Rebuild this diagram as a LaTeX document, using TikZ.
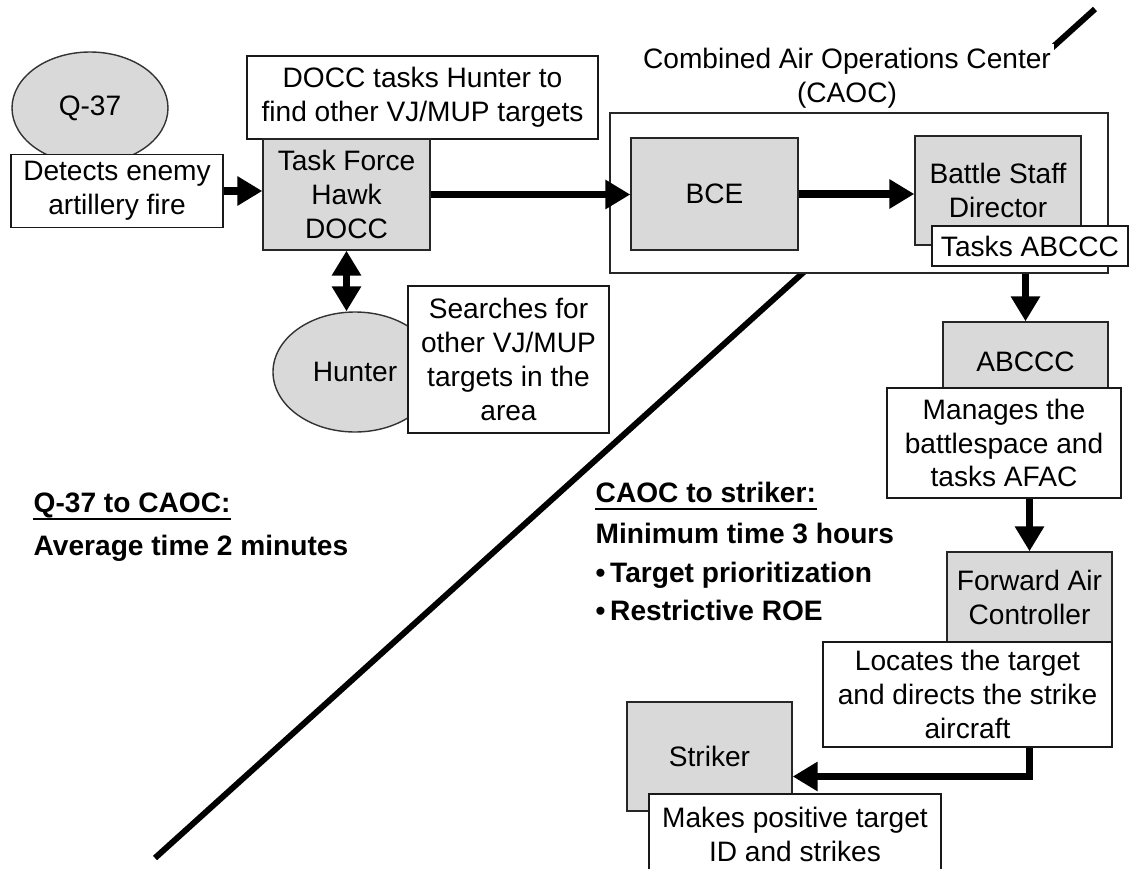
\documentclass[tikz,border=0pt]{standalone}
\usepackage{fontspec}
\setmainfont{Liberation Sans}
\usetikzlibrary{shapes.geometric,arrows.meta}

\begin{document}
\begin{tikzpicture}[
        x=0.02cm, y=-0.02cm,
        every node/.style={font=\fontsize{16}{19.3}\selectfont, align=center, line width=0.8pt},
        dims/.style 2 args={minimum width=#1*0.02cm, minimum height=#2*0.02cm},
        unit/.style={draw=black!85, fill=black!15},
        taskbox/.style={draw=black!90, fill=white},
        sensor/.style={ellipse, draw=black!80, fill=black!15},
        flow/.style={line width=4.2pt, -{Triangle[length=0.5cm, width=0.56cm]}},
        note/.style={font=\fontsize{16}{19.3}\selectfont\bfseries, anchor=base west, inner sep=0pt}
    ]
        \useasboundingbox (0,0) rectangle (1130,869);

        \coordinate (slashlow) at (155,858);
        \coordinate (slashtop) at (1095,9);
        \draw[line width=3.4pt] (slashlow) -- (slashtop);

        \node[sensor, dims={156}{112}] (q37) at (90,108) {Q-37};
        \node[taskbox, dims={212}{73}] (detects) at (117,191) {Detects enemy\\artillery fire};
        \node[taskbox, dims={351}{83}] (docctask) at (422.5,97.5) {DOCC tasks Hunter to\\find other VJ/MUP targets};
        \node[unit, dims={167}{111}] (tfh) at (346.5,194.5) {Task Force\\Hawk\\DOCC};
        \node[sensor, dims={164}{120}] (hunter) at (355,372) {Hunter};
        \node[taskbox, dims={201}{147}] (searches) at (508.5,359.5) {Searches for\\other VJ/MUP\\targets in the\\area};

        \node[fill=white, inner sep=2pt, minimum height=1.4cm] (caoclabel) at (847,78.5) {Combined Air Operations Center\\(CAOC)};
        \node[draw=black!85, fill=white, dims={498}{160}] (caoc) at (859,193) {};
        \node[unit, dims={167}{112}] (bce) at (714.5,194) {BCE};
        \node[unit, dims={166}{109}] (bsd) at (998,190.5) {Battle Staff\\Director};
        \node[taskbox, dims={196}{40}] (tasks) at (1030,246) {Tasks ABCCC};

        \node[unit, dims={165}{80}] (abccc) at (1025.5,362) {ABCCC};
        \node[taskbox, dims={234}{110}] (manages) at (1004,443) {Manages the\\battlespace and\\tasks AFAC};
        \node[unit, dims={165}{90}] (fac) at (1029.5,597) {Forward Air\\Controller};
        \node[taskbox, dims={289}{105}] (locates) at (967.5,694.5) {Locates the target\\and directs the strike\\aircraft};
        \node[unit, dims={165}{109}] (striker) at (709.5,756.5) {Striker};
        \node[taskbox, dims={292}{81}] (makes) at (795,834.5) {Makes positive target\\ID and strikes};

        \draw[flow] (detects.east) -- (detects.east -| tfh.west);
        \draw[flow] (tfh.east) -- (tfh.east -| bce.west);
        \draw[flow] (bce.east) -- (bce.east -| bsd.west);
        \draw[flow, {Triangle[length=0.5cm, width=0.56cm]}-{Triangle[length=0.5cm, width=0.56cm]}] (tfh.south) -- (tfh.south |- hunter.north);
        \draw[flow] (abccc.north |- caoc.south) -- (abccc.north);
        \draw[flow] (fac.north |- manages.south) -- (fac.north);
        \draw[flow] (fac.south |- locates.south) |- ([yshift=-0.4cm]striker.east);

        \node[note] (q2caoc) at (33,512) {Q-37 to CAOC:};
        \draw[line width=1.2pt] ([yshift=-0.14cm]q2caoc.base west) -- ([yshift=-0.14cm]q2caoc.base east);
        \node[note] (avgtime) at (33,555) {Average time 2 minutes};

        \node[note] (c2strike) at (595,502) {CAOC to striker:};
        \draw[line width=1.2pt] ([yshift=-0.14cm]c2strike.base west) -- ([yshift=-0.14cm]c2strike.base east);
        \node[note] (mintime) at (595,543) {Minimum time 3 hours};
        \node[note] (prio) at (595,582) {\textbullet\,Target prioritization};
        \node[note] (roe) at (595,620) {\textbullet\,Restrictive ROE};
    \end{tikzpicture}
\end{document}
